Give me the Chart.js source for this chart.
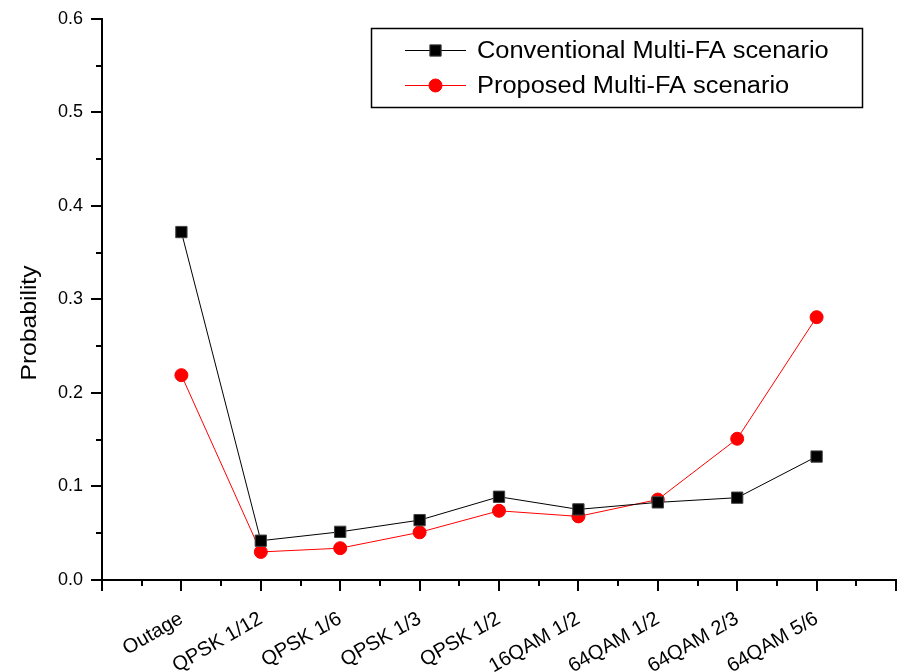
<!DOCTYPE html>
<html>
<head>
<meta charset="utf-8">
<script src="https://cdn.jsdelivr.net/npm/chart.js@4/dist/chart.umd.min.js"></script>
<style>
  html, body { margin: 0; padding: 0; background: #fff; }
  #wrap { width: 905px; height: 672px; }
</style>
</head>
<body>
<div id="wrap"><canvas id="c" width="905" height="672"></canvas></div>
<script>
// modulation / coding levels along the x axis
const levels = ['Outage', 'QPSK 1/12', 'QPSK 1/6', 'QPSK 1/3', 'QPSK 1/2',
                '16QAM 1/2', '64QAM 1/2', '64QAM 2/3', '64QAM 5/6'];
const conventional = [0.372, 0.042, 0.0515, 0.064, 0.089, 0.0755, 0.083, 0.088, 0.132];
const proposed     = [0.219, 0.030, 0.034, 0.051, 0.074, 0.068, 0.086, 0.151, 0.281];
const seriesNames  = ['Conventional Multi-FA scenario', 'Proposed Multi-FA scenario'];
const yTicks = [0, 0.1, 0.2, 0.3, 0.4, 0.5, 0.6];
const yTitle = 'Probability';

const FONT = '"Liberation Sans", Arial, sans-serif';

// minor ticks between the major ones, drawn outward like the majors
const minorTicks = {
  id: 'minorTicks',
  afterDraw(chart) {
    const { ctx, scales: { x, y } } = chart;
    ctx.save();
    ctx.strokeStyle = '#000';
    ctx.lineWidth = 2;
    ctx.beginPath();
    for (let v = -0.5; v < 9; v += 1) {
      const px = Math.round(x.getPixelForValue(v));
      ctx.moveTo(px, x.top);
      ctx.lineTo(px, x.top + 6);
    }
    for (let v = 0.05; v < 0.6; v += 0.1) {
      const py = Math.round(y.getPixelForValue(v));
      ctx.moveTo(y.right, py);
      ctx.lineTo(y.right - 6, py);
    }
    ctx.stroke();

    // y axis title, a little wider-set than the stock font
    ctx.translate(30, 323);
    ctx.rotate(-Math.PI / 2);
    ctx.scale(1.12, 1);
    ctx.font = '22px ' + FONT;
    ctx.fillStyle = '#000';
    ctx.textAlign = 'center';
    ctx.textBaseline = 'middle';
    ctx.fillText(yTitle, 0, 0);
    ctx.restore();
  }
};

// boxed legend in the upper right
const boxLegend = {
  id: 'boxLegend',
  afterDraw(chart) {
    const ctx = chart.ctx;
    const bx = 371.5, by = 28.5, bw = 491, bh = 79;
    ctx.save();
    ctx.strokeStyle = '#000';
    ctx.lineWidth = 1.5;
    ctx.strokeRect(bx, by, bw, bh);
    chart.data.datasets.forEach((ds, i) => {
      const cy = 50.5 + i * 35;
      ctx.strokeStyle = ds.borderColor;
      ctx.lineWidth = 1;
      ctx.beginPath();
      ctx.moveTo(405, cy);
      ctx.lineTo(466, cy);
      ctx.stroke();
      ctx.fillStyle = ds.pointBackgroundColor;
      ctx.strokeStyle = ds.pointBorderColor;
      Chart.helpers.drawPoint(ctx, {
        pointStyle: ds.pointStyle, radius: ds.pointRadius, borderWidth: 1, rotation: 0
      }, 435.5, cy);
      ctx.save();
      ctx.translate(477, cy + 1);
      ctx.scale(1.105, 1);
      ctx.font = '23px ' + FONT;
      ctx.textBaseline = 'middle';
      ctx.fillStyle = '#000';
      ctx.fillText(ds.label, 0, 0);
      ctx.restore();
    });
    ctx.restore();
  }
};

new Chart(document.getElementById('c'), {
  type: 'line',
  data: {
    datasets: [
      {
        label: seriesNames[0],
        data: conventional.map((v, i) => ({ x: i, y: v })),
        borderColor: '#000',
        borderWidth: 1,
        pointStyle: 'rect',
        pointRadius: 8,
        pointBackgroundColor: '#000',
        pointBorderColor: '#444',
        pointBorderWidth: 1
      },
      {
        label: seriesNames[1],
        data: proposed.map((v, i) => ({ x: i, y: v })),
        borderColor: '#ff0000',
        borderWidth: 1,
        pointStyle: 'circle',
        pointRadius: 6.5,
        pointBackgroundColor: '#ff0000',
        pointBorderColor: '#ff0000',
        pointBorderWidth: 1
      }
    ]
  },
  options: {
    responsive: false,
    animation: false,
    layout: { padding: { top: 18, right: -5, left: 0, bottom: 0 } },
    plugins: { legend: { display: false }, tooltip: { enabled: false } },
    scales: {
      x: {
        type: 'linear',
        min: -1,
        max: 9,
        afterFit(s) { s.height = 92; s.paddingLeft = 0; s.paddingRight = 0; },
        afterBuildTicks(s) { s.ticks = Array.from({ length: 11 }, (_, i) => ({ value: i - 1 })); },
        grid: { drawOnChartArea: false, drawTicks: true, tickLength: 11, color: '#000', lineWidth: 2 },
        border: { display: true, color: '#000', width: 2 },
        ticks: {
          autoSkip: false,
          maxRotation: 30,
          minRotation: 30,
          padding: 16,
          color: '#000',
          font: { family: FONT, size: 20 },
          callback: v => levels[v] || ''
        }
      },
      y: {
        min: 0,
        max: 0.6,
        afterFit(s) { s.width = 102; },
        afterBuildTicks(s) { s.ticks = yTicks.map(v => ({ value: v })); },
        grid: { drawOnChartArea: false, drawTicks: true, tickLength: 11, color: '#000', lineWidth: 2 },
        border: { display: true, color: '#000', width: 2 },
        ticks: {
          padding: 8,
          color: '#000',
          font: { family: FONT, size: 18 },
          callback: v => v.toFixed(1)
        }
      }
    }
  },
  plugins: [minorTicks, boxLegend]
});
</script>
</body>
</html>
